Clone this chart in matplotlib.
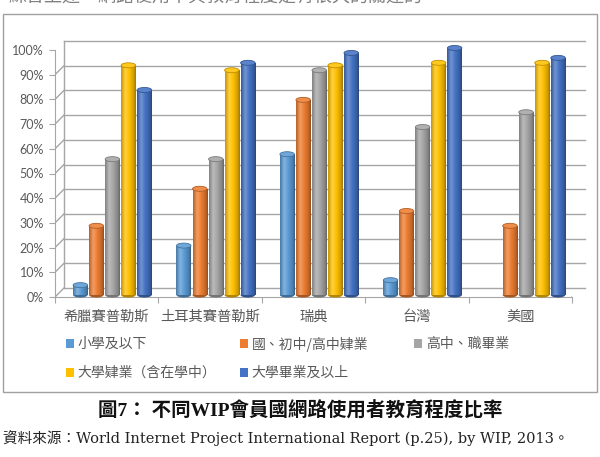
import numpy as np
import matplotlib
matplotlib.use('Agg')
import matplotlib.pyplot as plt
import matplotlib.transforms as mtrans
from matplotlib.patches import Ellipse, Rectangle
from matplotlib.colors import LinearSegmentedColormap, to_rgb

# ---------------- data ----------------
countries = ['希臘賽普勒斯', '土耳其賽普勒斯', '瑞典', '台灣', '美國']
series_names = ['小學及以下', '國、初中/高中肄業', '高中、職畢業',
                '大學肄業（含在學中）', '大學畢業及以上']
primary = [4, 20, 57, 6, 0]
junior = [28, 43, 79, 34, 28]
senior = [55, 55, 91, 68, 74]
college_some = [93, 91, 93, 94, 94]
college_grad = [83, 94, 98, 100, 96]
series_values = [primary, junior, senior, college_some, college_grad]
yticks = [0, 10, 20, 30, 40, 50, 60, 70, 80, 90, 100]
ytick_labels = ['0%', '10%', '20%', '30%', '40%', '50%', '60%', '70%',
                '80%', '90%', '100%']
colors = ['#5B9BD5', '#ED7D31', '#A5A5A5', '#FFC000', '#4472C4']

CJK = ['Noto Sans CJK TC', 'DejaVu Sans']
SERIF = ['Liberation Serif', 'Noto Sans CJK TC']
SERIF2 = ['DejaVu Serif', 'Noto Sans CJK TC']
GRID = '#A6A6A6'
TXT = '#595959'

W, H = 600, 457
fig = plt.figure(figsize=(W / 100, H / 100), dpi=100)
fig.patch.set_facecolor('white')

def fx(px):
    return px / W

def fy(py):
    return 1 - py / H

# clipped line of preceding text at very top
fig.text(fx(8), fy(-3), '綜合上述，網路使用率與教育程度是有很大的關連的。',
         ha='left', va='center', fontsize=13, color='#808080', family=CJK)

# chart frame
fig.add_artist(Rectangle((fx(3), fy(392)), fx(594), (392 - 14) / H,
                         transform=fig.transFigure, fill=False,
                         edgecolor='#A0A0A0', lw=1.0))

ax = fig.add_axes([fx(55), fy(297), fx(517), (297 - 50) / H])
ax.set_xlim(0, 5)
ax.set_ylim(0, 100)
ax.patch.set_alpha(0)
for s in ['top', 'right']:
    ax.spines[s].set_visible(False)
ax.spines['left'].set_color(GRID)
ax.spines['bottom'].set_color(GRID)

# back wall offset (pseudo 3-D)
back = mtrans.offset_copy(ax.transData, fig=fig, x=9, y=9, units='dots')
for v in yticks:
    ax.plot([0, 5.04], [v, v], color=GRID, lw=1, transform=back,
            clip_on=False, zorder=1)
trans_pts = ax.transData
for v in yticks:
    p0 = trans_pts.transform((0, v))
    ax.add_line(matplotlib.lines.Line2D([p0[0], p0[0] + 9], [p0[1], p0[1] + 9],
                                        transform=None, color=GRID, lw=1,
                                        zorder=1))
ax.plot([0, 0], [0, 100], color=GRID, lw=1, transform=back, clip_on=False,
        zorder=1)
p0 = trans_pts.transform((5, 0))
ax.add_line(matplotlib.lines.Line2D([p0[0], p0[0] + 13], [p0[1], p0[1] + 9],
                                    transform=None, color=GRID, lw=1,
                                    zorder=1))

# ticks
ax.set_yticks(yticks)
ax.set_yticklabels(ytick_labels, fontsize=9, color=TXT, family=['Lato'])
ax.tick_params(axis='y', length=4, pad=4, color=GRID)
ax.set_xticks(range(6))
ax.set_xticklabels([''] * 6)
ax.tick_params(axis='x', which='major', length=4, color=GRID)
centers = np.arange(5) + 0.5
ax.set_xticks(centers, minor=True)
ax.set_xticklabels(countries, minor=True, fontsize=10.3, color=TXT, family=CJK)
ax.tick_params(axis='x', which='minor', length=0, pad=9)

# cylinder bars
bw = 0.14
step = 0.155
shift = 0.055
px_per_unit_y = (297 - 50) / 100.0
cap_h = 5.0 / px_per_unit_y
depth_base = 2.0 / px_per_unit_y   # bars sit slightly behind front edge

def shade(c, f):
    r = np.array(to_rgb(c))
    if f >= 1:
        return tuple(r + (1 - r) * (f - 1))
    return tuple(r * f)

containers = []
for j, (vals, c) in enumerate(zip(series_values, colors)):
    xs = centers + (j - 2) * step + shift
    cont = ax.bar(xs, vals, width=bw, bottom=depth_base, color=c,
                  edgecolor='none', zorder=3, label=series_names[j],
                  clip_on=False)
    containers.append(cont)
    cmap = LinearSegmentedColormap.from_list(
        'cyl%d' % j,
        [(0, shade(c, 0.78)), (0.28, shade(c, 1.25)), (0.55, shade(c, 1.0)),
         (0.85, shade(c, 0.82)), (1, shade(c, 0.62))])
    grad = np.linspace(0, 1, 64).reshape(1, -1)
    for x, v, rect in zip(xs, vals, cont.patches):
        if v <= 0:
            continue
        ax.add_patch(Ellipse((x, depth_base), bw, cap_h,
                             facecolor=shade(c, 0.7), edgecolor='none',
                             zorder=2.9, clip_on=False))
        im = ax.imshow(grad, extent=[x - bw / 2, x + bw / 2, depth_base,
                                     depth_base + v],
                       cmap=cmap, aspect='auto', zorder=3.1,
                       interpolation='bilinear')
        im.set_clip_path(rect)
        ax.add_patch(Ellipse((x, depth_base + v), bw, cap_h,
                             facecolor=shade(c, 1.12),
                             edgecolor=shade(c, 0.75), lw=0.6, zorder=3.3,
                             clip_on=False))
ax.set_xlim(0, 5)
ax.set_ylim(0, 100)

# legend (manual placement of single-entry legends)
leg_pos = [(66, 344), (240, 344), (414, 344), (66, 373), (240, 373)]
for cont, name, (lx, ly) in zip(containers, series_names, leg_pos):
    fig.legend([cont], [name], loc='center left',
               bbox_to_anchor=(fx(lx), fy(ly)), frameon=False,
               borderpad=0, borderaxespad=0, handlelength=0.6,
               handleheight=0.6, handletextpad=0.25,
               prop={'family': CJK, 'size': 10}, labelcolor=TXT)

# caption and source
fig.text(0.5, fy(411), '圖7： 不同WIP會員國網路使用者教育程度比率',
         ha='center', va='center', fontsize=14, fontweight='bold',
         family=SERIF, color='#111111')
fig.text(fx(3), fy(438),
         '資料來源：World Internet Project International Report (p.25), by WIP, 2013。',
         ha='left', va='center', fontsize=10.5, family=SERIF2, color='#222222')

fig.savefig('out.png', dpi=100)
